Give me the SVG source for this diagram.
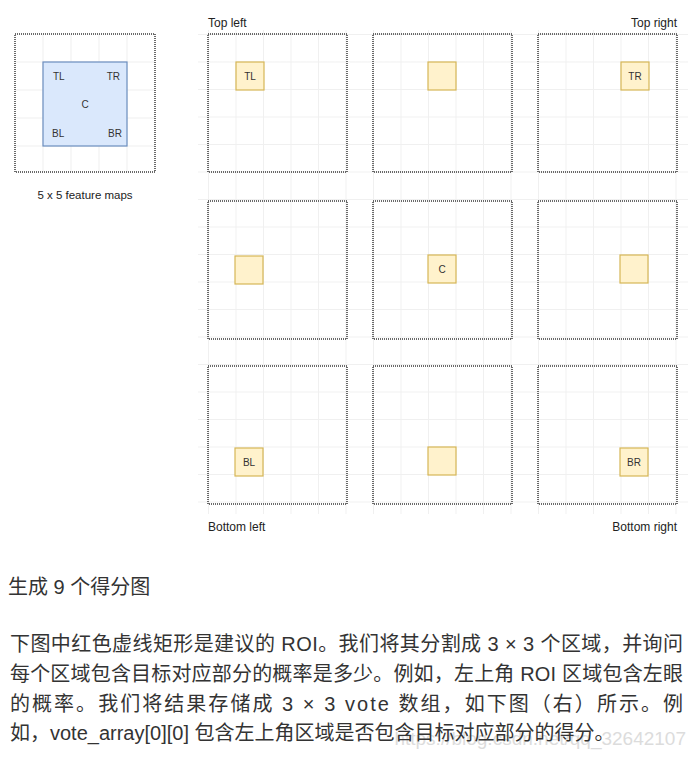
<svg xmlns="http://www.w3.org/2000/svg" width="696" height="758" viewBox="0 0 696 758">
<style>
.frame{fill:none;stroke:#3a3a3a;stroke-width:1.5;stroke-dasharray:1 1}
.cell{fill:#fff2cc;stroke:#d6b656;stroke-width:1.2}
.roi{fill:#dae8fc;stroke:#6c8ebf;stroke-width:1.2}
.lbl{font-family:"Liberation Sans",Arial,sans-serif;font-size:10px;fill:#333}
.cap{font-family:"Liberation Sans",Arial,sans-serif;font-size:12px;fill:#222}
.body{font-family:"Liberation Sans","Noto Sans CJK SC",sans-serif;font-size:20px;fill:#333}
.grid{stroke:#efefef;stroke-width:1}
</style>
<defs>
<pattern id="bg" x="208" y="34" width="27.5" height="27.5" patternUnits="userSpaceOnUse">
<path d="M0.5 0V27.5M0 0.5H27.5" stroke="#f0f0f0" stroke-width="1" fill="none"/>
</pattern>
</defs>
<rect width="696" height="758" fill="#ffffff"/>
<rect x="198" y="30" width="490" height="484" fill="url(#bg)"/>

<g id="feature-map">
<rect x="15" y="34" width="140" height="138" fill="#ffffff"/>
<path class="grid" d="M43 34V172M71 34V172M99 34V172M127 34V172M15 62H155M15 90H155M15 118H155M15 146H155"/>
<rect class="frame" x="15" y="34" width="140" height="138"/>
<rect class="roi" x="43" y="62" width="84" height="84"/>
<text class="lbl" x="53" y="80">TL</text>
<text class="lbl" x="120" y="80" text-anchor="end">TR</text>
<text class="lbl" x="85" y="108" text-anchor="middle">C</text>
<text class="lbl" x="52" y="137">BL</text>
<text class="lbl" x="122" y="137" text-anchor="end">BR</text>
<text class="cap" x="85" y="199" text-anchor="middle" style="font-size:11.5px">5 x 5 feature maps</text>
</g>

<g id="labels">
<text class="cap" x="208" y="27">Top left</text>
<text class="cap" x="677" y="27" text-anchor="end">Top right</text>
<text class="cap" x="208" y="531">Bottom left</text>
<text class="cap" x="677" y="531" text-anchor="end">Bottom right</text>
</g>

<g id="map-tl">
<rect class="frame" x="208" y="34" width="139" height="138"/>
<rect class="cell" x="236" y="62" width="28" height="28"/>
<text class="lbl" x="250" y="79.5" text-anchor="middle">TL</text>
</g>
<g id="map-tc">
<rect class="frame" x="373" y="34" width="139" height="138"/>
<rect class="cell" x="428" y="62" width="28" height="28"/>
</g>
<g id="map-tr">
<rect class="frame" x="538" y="34" width="139" height="138"/>
<rect class="cell" x="621" y="62" width="28" height="28"/>
<text class="lbl" x="635" y="79.5" text-anchor="middle">TR</text>
</g>

<g id="map-ml">
<rect class="frame" x="208" y="201" width="139" height="138"/>
<rect class="cell" x="235" y="256" width="28" height="28"/>
</g>
<g id="map-c">
<rect class="frame" x="373" y="201" width="139" height="138"/>
<rect class="cell" x="428" y="255" width="28" height="28"/>
<text class="lbl" x="442" y="272.5" text-anchor="middle">C</text>
</g>
<g id="map-mr">
<rect class="frame" x="538" y="201" width="139" height="138"/>
<rect class="cell" x="620" y="255" width="28" height="28"/>
</g>

<g id="map-bl">
<rect class="frame" x="208" y="366" width="139" height="138"/>
<rect class="cell" x="235" y="448" width="28" height="28"/>
<text class="lbl" x="249" y="465.5" text-anchor="middle">BL</text>
</g>
<g id="map-bc">
<rect class="frame" x="373" y="366" width="139" height="138"/>
<rect class="cell" x="428" y="447" width="28" height="28"/>
</g>
<g id="map-br">
<rect class="frame" x="538" y="366" width="139" height="138"/>
<rect class="cell" x="620" y="448" width="28" height="28"/>
<text class="lbl" x="634" y="465.5" text-anchor="middle">BR</text>
</g>

<g id="connectors"/>

<g id="text">
<text class="body" x="8" y="594">生成 9 个得分图</text>
<text class="body" x="10" y="651" textLength="673" lengthAdjust="spacing">下图中红色虚线矩形是建议的 ROI。我们将其分割成 3 × 3 个区域，并询问</text>
<text class="body" x="10" y="681" textLength="673" lengthAdjust="spacing">每个区域包含目标对应部分的概率是多少。例如，左上角 ROI 区域包含左眼</text>
<text class="body" x="10" y="711" textLength="673" lengthAdjust="spacing">的概率。我们将结果存储成 3 × 3 vote 数组，如下图（右）所示。例</text>
<text x="686" y="745" text-anchor="end" style="font-family:'Liberation Sans',Arial,sans-serif;font-size:19px;fill:#dcdcdc">https://blog.csdn.net/qq_32642107</text>
<text class="body" x="10" y="740">如，vote_array[0][0] 包含左上角区域是否包含目标对应部分的得分。</text>
</g>
</svg>
